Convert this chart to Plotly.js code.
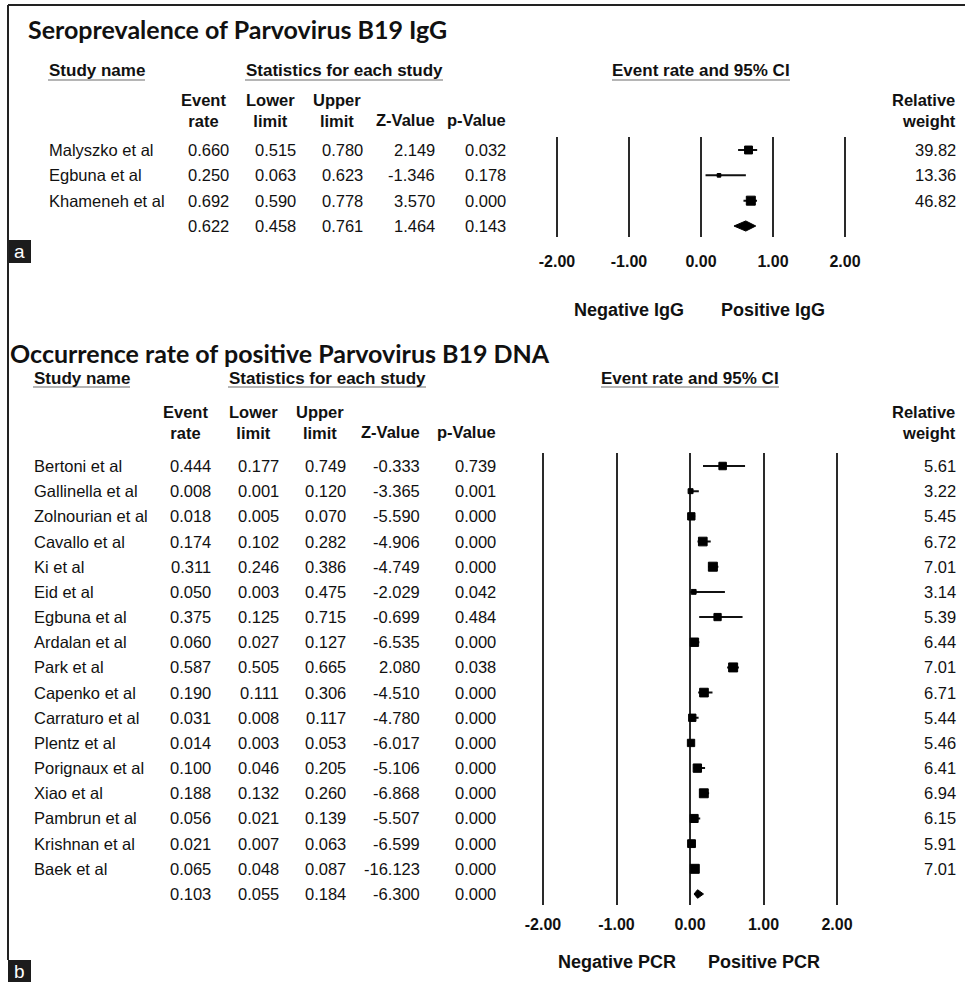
<!DOCTYPE html>
<html>
<head>
<meta charset="utf-8">
<script src="https://cdn.plot.ly/plotly-3.0.1.min.js"></script>
<style>html,body{margin:0;padding:0;background:#fff}#chart{width:965px;height:982px}</style>
</head>
<body>
<div id="chart"></div>
<script>
// ---------- DATA ----------
// Panel a: Seroprevalence of Parvovirus B19 IgG
const igStudies = ['Malyszko et al', 'Egbuna et al', 'Khameneh et al'];
const igRate   = [0.660, 0.250, 0.692];
const igLower  = [0.515, 0.063, 0.590];
const igUpper  = [0.780, 0.623, 0.778];
const igZ      = [2.149, -1.346, 3.570];
const igP      = [0.032, 0.178, 0.000];
const igWeight = [39.82, 13.36, 46.82];
const igSummary = [0.622, 0.458, 0.761, 1.464, 0.143]; // rate, lower, upper, Z, p

// Panel b: Occurrence rate of positive Parvovirus B19 DNA
const pcrStudies = ['Bertoni et al', 'Gallinella et al', 'Zolnourian et al', 'Cavallo et al', 'Ki et al',
  'Eid et al', 'Egbuna et al', 'Ardalan et al', 'Park et al', 'Capenko et al', 'Carraturo et al',
  'Plentz et al', 'Porignaux et al', 'Xiao et al', 'Pambrun et al', 'Krishnan et al', 'Baek et al'];
const pcrRate  = [0.444, 0.008, 0.018, 0.174, 0.311, 0.050, 0.375, 0.060, 0.587, 0.190, 0.031, 0.014, 0.100, 0.188, 0.056, 0.021, 0.065];
const pcrLower = [0.177, 0.001, 0.005, 0.102, 0.246, 0.003, 0.125, 0.027, 0.505, 0.111, 0.008, 0.003, 0.046, 0.132, 0.021, 0.007, 0.048];
const pcrUpper = [0.749, 0.120, 0.070, 0.282, 0.386, 0.475, 0.715, 0.127, 0.665, 0.306, 0.117, 0.053, 0.205, 0.260, 0.139, 0.063, 0.087];
const pcrZ     = [-0.333, -3.365, -5.590, -4.906, -4.749, -2.029, -0.699, -6.535, 2.080, -4.510, -4.780, -6.017, -5.106, -6.868, -5.507, -6.599, -16.123];
const pcrP     = [0.739, 0.001, 0.000, 0.000, 0.000, 0.042, 0.484, 0.000, 0.038, 0.000, 0.000, 0.000, 0.000, 0.000, 0.000, 0.000, 0.000];
const pcrWeight = [5.61, 3.22, 5.45, 6.72, 7.01, 3.14, 5.39, 6.44, 7.01, 6.71, 5.44, 5.46, 6.41, 6.94, 6.15, 5.91, 7.01];
const pcrSummary = [0.103, 0.055, 0.184, -6.300, 0.000];

const tickValues = [-2, -1, 0, 1, 2];
const tickLabels = ['-2.00', '-1.00', '0.00', '1.00', '2.00'];

// ---------- LAYOUT HELPERS ----------
const W = 965, H = 982;
const X = p => p / W;
const Y = p => 1 - p / H;
const FONT = 'Liberation Sans, Arial, sans-serif';
const INK = '#111111';
const annotations = [];
const shapes = [];

function txt(text, x, y, o = {}) {
  annotations.push({
    text: text, x: X(x), y: o.yref ? y : Y(y), xref: 'paper', yref: o.yref || 'paper',
    xanchor: o.anchor || 'left', yanchor: 'middle', showarrow: false, align: o.anchor || 'left',
    borderpad: 0,
    font: {family: o.family || FONT, size: o.size || 16.5, color: o.color || INK, weight: o.bold ? 'bold' : 'normal'}
  });
}
function uline(x0, x1, y) {
  shapes.push({type: 'line', xref: 'paper', yref: 'paper', x0: X(x0), x1: X(x1), y0: Y(y), y1: Y(y),
    line: {color: '#b5b5b5', width: 2}});
}
function f3(v) { return v.toFixed(3); }

// Build one panel's table
function panel(cfg) {
  const c = cfg.cols;
  txt(cfg.title, cfg.titleX, cfg.titleY, {size: 25, bold: true, family: 'Lato, Open Sans, sans-serif', color: '#111'});
  txt('Study name', c.name, cfg.hdr1, {bold: true, size: 17});
  uline(c.name, c.name + 97, cfg.hdr1 + 9);
  txt('Statistics for each study', cfg.statsX, cfg.hdr1, {bold: true, size: 17, anchor: 'center'});
  uline(cfg.statsX - 99, cfg.statsX + 99, cfg.hdr1 + 9);
  txt('Event rate and 95% CI', cfg.ciX, cfg.hdr1, {bold: true, size: 17, anchor: 'center'});
  uline(cfg.ciX - 89, cfg.ciX + 89, cfg.hdr1 + 9);
  const hM = cfg.hdrMid, hB = cfg.hdr3;
  txt('Event<br>rate', c.rate - 27, hM, {bold: true, size: 16.5, anchor: 'center'});
  txt('Lower<br>limit', c.lower - 27, hM, {bold: true, size: 16.5, anchor: 'center'});
  txt('Upper<br>limit', c.upper - 27, hM, {bold: true, size: 16.5, anchor: 'center'});
  txt('Z-Value', c.z, hB, {bold: true, size: 16.5, anchor: 'right'});
  txt('p-Value', c.p, hB, {bold: true, size: 16.5, anchor: 'right'});
  txt('Relative<br>weight', c.w, hM, {bold: true, size: 16.5, anchor: 'right'});

  const yr = cfg.yref;
  cfg.names.forEach((n, i) => {
    txt(n, c.name, i, {yref: yr});
    txt(f3(cfg.rate[i]), c.rate, i, {yref: yr, anchor: 'right'});
    txt(f3(cfg.lower[i]), c.lower, i, {yref: yr, anchor: 'right'});
    txt(f3(cfg.upper[i]), c.upper, i, {yref: yr, anchor: 'right'});
    txt(f3(cfg.z[i]), c.z, i, {yref: yr, anchor: 'right'});
    txt(f3(cfg.p[i]), c.p, i, {yref: yr, anchor: 'right'});
    txt(cfg.weight[i].toFixed(2), c.w, i, {yref: yr, anchor: 'right'});
  });
  const k = cfg.names.length;
  const s = cfg.summary;
  [c.rate, c.lower, c.upper, c.z, c.p].forEach((xx, j) => txt(f3(s[j]), xx, k, {yref: yr, anchor: 'right'}));

  annotations.push({text: cfg.neg, x: -1, xref: cfg.xref, y: Y(cfg.negY), yref: 'paper', showarrow: false,
    xanchor: 'center', yanchor: 'middle', font: {family: FONT, size: 18, weight: 'bold', color: INK}});
  annotations.push({text: cfg.pos, x: 1, xref: cfg.xref, y: Y(cfg.negY), yref: 'paper', showarrow: false,
    xanchor: 'center', yanchor: 'middle', font: {family: FONT, size: 18, weight: 'bold', color: INK}});

  // letter box
  shapes.push({type: 'rect', xref: 'paper', yref: 'paper', x0: X(8), x1: X(31), y0: Y(cfg.boxY + 23), y1: Y(cfg.boxY),
    fillcolor: '#1c1c1c', line: {width: 0}});
  txt(cfg.letter, 19.5, cfg.boxY + 11, {anchor: 'center', color: '#fff', size: 19});
}

panel({
  title: 'Seroprevalence of Parvovirus B19 IgG', titleX: 27, titleY: 29,
  hdr1: 71, hdrMid: 110, hdr3: 120, statsX: 344, ciX: 701,
  cols: {name: 48, rate: 230, lower: 297, upper: 364, z: 436, p: 507, w: 957},
  names: igStudies, rate: igRate, lower: igLower, upper: igUpper, z: igZ, p: igP, weight: igWeight, summary: igSummary,
  yref: 'y', xref: 'x', neg: 'Negative IgG', pos: 'Positive IgG', negY: 310, letter: 'a', boxY: 240
});
panel({
  title: 'Occurrence rate of positive Parvovirus B19 DNA', titleX: 9, titleY: 353,
  hdr1: 378, hdrMid: 422, hdr3: 432, statsX: 327, ciX: 690,
  cols: {name: 33, rate: 212, lower: 280, upper: 347, z: 421, p: 497, w: 957},
  names: pcrStudies, rate: pcrRate, lower: pcrLower, upper: pcrUpper, z: pcrZ, p: pcrP, weight: pcrWeight, summary: pcrSummary,
  yref: 'y2', xref: 'x2', neg: 'Negative PCR', pos: 'Positive PCR', negY: 962, letter: 'b', boxY: 960
});

// frame
shapes.push({type: 'line', xref: 'paper', yref: 'paper', x0: X(8), x1: X(965), y0: Y(5), y1: Y(5), line: {color: '#222', width: 2}});
shapes.push({type: 'line', xref: 'paper', yref: 'paper', x0: X(8), x1: X(8), y0: Y(5), y1: Y(960), line: {color: '#222', width: 2}});

// ---------- TRACES ----------
function forestTraces(rate, lower, upper, weight, summary, xa, ya, halfH) {
  const maxW = Math.max(...weight);
  const idx = rate.map((_, i) => i);
  const k = rate.length;
  return [
    {type: 'scatter', mode: 'markers', x: rate, y: idx, xaxis: xa, yaxis: ya, hoverinfo: 'skip',
     marker: {symbol: 'square', color: '#000', opacity: 1, size: weight.map(w => 1.5 + 7.5 * w / maxW),
              line: {width: 1, color: '#000'}},
     error_x: {type: 'data', symmetric: false, array: upper.map((u, i) => u - rate[i]),
               arrayminus: lower.map((l, i) => rate[i] - l), width: 0, thickness: 2, color: INK}},
    {type: 'scatter', mode: 'lines', xaxis: xa, yaxis: ya, hoverinfo: 'skip', fill: 'toself', fillcolor: '#000',
     line: {color: '#000', width: 1},
     x: [summary[1], summary[0], summary[2], summary[0], summary[1]],
     y: [k, k - halfH, k, k + halfH, k]}
  ];
}

const data = [
  ...forestTraces(igRate, igLower, igUpper, igWeight, igSummary, 'x', 'y', 0.2),
  ...forestTraces(pcrRate, pcrLower, pcrUpper, pcrWeight, pcrSummary, 'x2', 'y2', 0.17)
];

// axes geometry (pixels)
const aZero = 701, aUnit = 72, bZero = 690, bUnit = 73.5, pad = 0.2;
function xAxis(zero, unit, anchor, standoff) {
  return {
    domain: [X(zero - (2 + pad) * unit), X(zero + (2 + pad) * unit)], range: [-2 - pad, 2 + pad],
    anchor: anchor, tickmode: 'array', tickvals: tickValues, ticktext: tickLabels,
    showgrid: true, gridcolor: '#2a2a2a', gridwidth: 2, zeroline: false, showline: false,
    ticks: '', ticklabelstandoff: standoff, fixedrange: true,
    tickfont: {family: FONT, size: 16, weight: 'bold', color: INK}
  };
}
const layout = {
  width: W, height: H, margin: {l: 0, r: 0, t: 0, b: 0}, showlegend: false,
  paper_bgcolor: '#fff', plot_bgcolor: 'rgba(0,0,0,0)',
  xaxis: xAxis(aZero, aUnit, 'y', 13),
  yaxis: {domain: [Y(237), Y(137)], range: [3 + 11 / 25.33, -13 / 25.33], visible: false, fixedrange: true},
  xaxis2: xAxis(bZero, bUnit, 'y2', 8),
  yaxis2: {domain: [Y(905), Y(453)], range: [17 + 11 / 25.18, -13 / 25.18], visible: false, fixedrange: true},
  annotations: annotations, shapes: shapes
};
Plotly.newPlot('chart', data, layout, {displayModeBar: false, staticPlot: true});
</script>
</body>
</html>
